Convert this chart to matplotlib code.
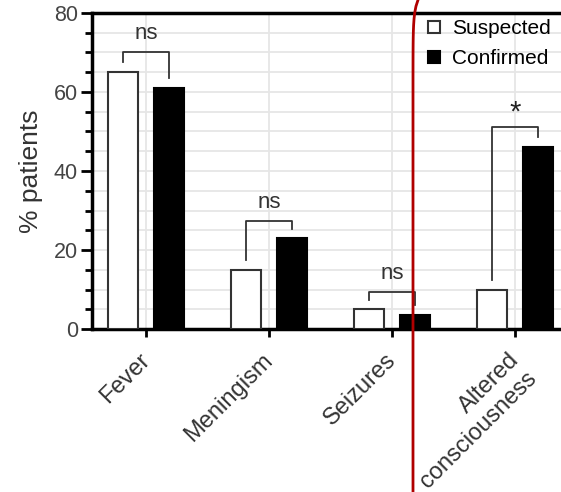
# grouped bar chart, suspected vs confirmed cases, with significance brackets
import numpy as np
import matplotlib.pyplot as plt
from matplotlib.lines import Line2D
from matplotlib.ticker import MultipleLocator
from matplotlib.transforms import ScaledTranslation

plt.rcParams['font.family'] = ['Liberation Sans', 'DejaVu Sans']

# data
categories = ['Fever', 'Meningism', 'Seizures', 'Altered\nconsciousness']
suspected = [65, 15, 5, 10]
confirmed = [61, 23, 3.5, 46]
sig = ['ns', 'ns', 'ns', '*']
bracket_top = [70, 27.3, 9.4, 51]

x = np.arange(len(categories))
w = 0.236
off = 0.187

fig = plt.figure(figsize=(5.61, 4.92), dpi=100)
ax = fig.add_axes([0.164, 0.331, 0.836, 0.643])

ax.bar(x - off, suspected, w, color='white', edgecolor='#333333', linewidth=1.5, zorder=3)
ax.bar(x + off, confirmed, w, color='black', edgecolor='black', linewidth=1.5, zorder=3)

# significance brackets
for i in range(len(categories)):
    top = bracket_top[i]
    l = min(suspected[i] + 2.5, top - 2)
    r = min(confirmed[i] + 2.5, top - 2)
    ax.plot([x[i] - off, x[i] - off, x[i] + off, x[i] + off], [l, top, top, r],
            color='#333333', lw=1.3, zorder=4)
    if sig[i] == '*':
        ax.text(x[i], top + 0.2, sig[i], ha='center', va='bottom', fontsize=21, color='#222222')
    else:
        ax.text(x[i], top + 2.0, sig[i], ha='center', va='bottom', fontsize=16, color='#333333')

ax.set_xlim(-0.439, 3.374)
ax.set_ylim(0, 80)
ax.yaxis.set_major_locator(MultipleLocator(20))
ax.yaxis.set_minor_locator(MultipleLocator(5))
ax.set_xticks(x)
ax.set_xticklabels([])
# rotated category labels, placed a bit left/down of the ticks like the original
lab_tr = ax.get_xaxis_transform() + ScaledTranslation(-0.07, -0.20, fig.dpi_scale_trans)
for i, c in enumerate(categories):
    ax.text(x[i], 0, c, transform=lab_tr, rotation=45, ha='right', va='top',
            rotation_mode='anchor', multialignment='right', fontsize=17, color='#333333')
ax.tick_params(axis='y', which='major', length=8, width=2, labelsize=15.5, labelcolor='#444444', pad=2)
ax.tick_params(axis='y', which='minor', length=5, width=2)
ax.tick_params(axis='x', length=6, width=2)
ax.set_ylabel('% patients', fontsize=19, color='#333333', labelpad=8)

ax.grid(True, which='both', axis='y', color='#e6e6e6', lw=1.3, zorder=0)
ax.grid(True, which='major', axis='x', color='#e6e6e6', lw=1.3, zorder=0)
for s in ['left', 'bottom', 'top']:
    ax.spines[s].set_linewidth(2.5)
    ax.spines[s].set_color('black')
ax.spines['right'].set_visible(False)

handles = [Line2D([], [], marker='s', ls='none', ms=9, mfc='white', mec='#333333', mew=1.5),
           Line2D([], [], marker='s', ls='none', ms=9, mfc='black', mec='black', mew=1.5)]
ax.legend(handles, ['Suspected', 'Confirmed'], loc='upper left', bbox_to_anchor=(0.672, 1.04),
          frameon=False, fontsize=15, handlelength=0.8, handletextpad=0.45, labelspacing=0.55)

# red hand-drawn mark over the image
ty = np.linspace(0, 492, 80)
tx = 413 + 5 * np.exp(-ty / 12)
fig.add_artist(Line2D(tx / 561, 1 - ty / 492, color='#b00000', lw=2, transform=fig.transFigure))

fig.savefig('out.png', dpi=100)
